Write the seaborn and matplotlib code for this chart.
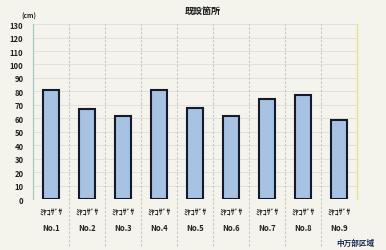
import matplotlib
matplotlib.use("Agg")
import matplotlib.pyplot as plt
import seaborn as sns
import pandas as pd

categories = ["No.1", "No.2", "No.3", "No.4", "No.5", "No.6", "No.7", "No.8", "No.9"]
species = ["ﾐﾔｺｻﾞｻ"] * 9
heights = [81, 67, 62, 81, 68, 62, 74, 77, 59]
yticks = list(range(0, 131, 10))

sns.set_theme(style="white")
plt.rcParams['font.family'] = ['Noto Sans CJK JP', 'DejaVu Sans']

df = pd.DataFrame({"cat": categories, "h": heights})

fig = plt.figure(figsize=(3.86, 2.51), dpi=100, facecolor="#f4f4ec")
ax = fig.add_axes([0.086, 0.203, 0.839, 0.697])
ax.set_facecolor("#f4f4ec")

sns.barplot(data=df, x="cat", y="h", ax=ax, color="#a8c2e4", width=0.44,
            edgecolor="#151a2a", linewidth=1.5, saturation=1)

ax.set_ylim(0, 130)
ax.set_xlim(-0.5, 8.5)
ax.set_yticks(yticks)
ax.set_yticklabels([str(t) for t in yticks], fontsize=5.5, fontweight="bold", color="#222222")
ax.grid(axis="y", color="#dddddd", linewidth=0.6)
ax.set_axisbelow(True)
ax.tick_params(axis="y", length=0, pad=7)
ax.set_xticks(range(9))
ax.set_xticklabels(["%s\n%s" % (s, c) for s, c in zip(species, categories)],
                   fontsize=5.5, fontweight="bold", color="#222222", linespacing=2.0)
ax.tick_params(axis="x", length=0, pad=6)
ax.set_xlabel("")
ax.set_ylabel("")

for i in range(8):
    ax.axvline(i + 0.5, ymin=-0.27, ymax=1.0, color="#b8bcc0", linewidth=0.6,
               linestyle=(0, (3, 2)), clip_on=False)

for s in ["top", "bottom"]:
    ax.spines[s].set_visible(False)
ax.spines["left"].set_color("#9fc6c4")
ax.spines["left"].set_linewidth(0.8)
ax.spines["right"].set_color("#eedc9a")
ax.spines["right"].set_linewidth(1.0)
ax.spines["right"].set_bounds(0, 130)

fig.text(0.525, 0.955, "既設箇所", fontsize=6.5, fontweight="bold", ha="center", va="center", color="#222222")
fig.text(0.075, 0.935, "(cm)", fontsize=4.8, fontweight="bold", ha="center", va="center", color="#222222")
fig.text(0.97, 0.03, "中万部区域", fontsize=5.5, fontweight="bold", ha="right", va="center", color="#1a2a55")

fig.savefig("out.png", dpi=100, facecolor=fig.get_facecolor())
